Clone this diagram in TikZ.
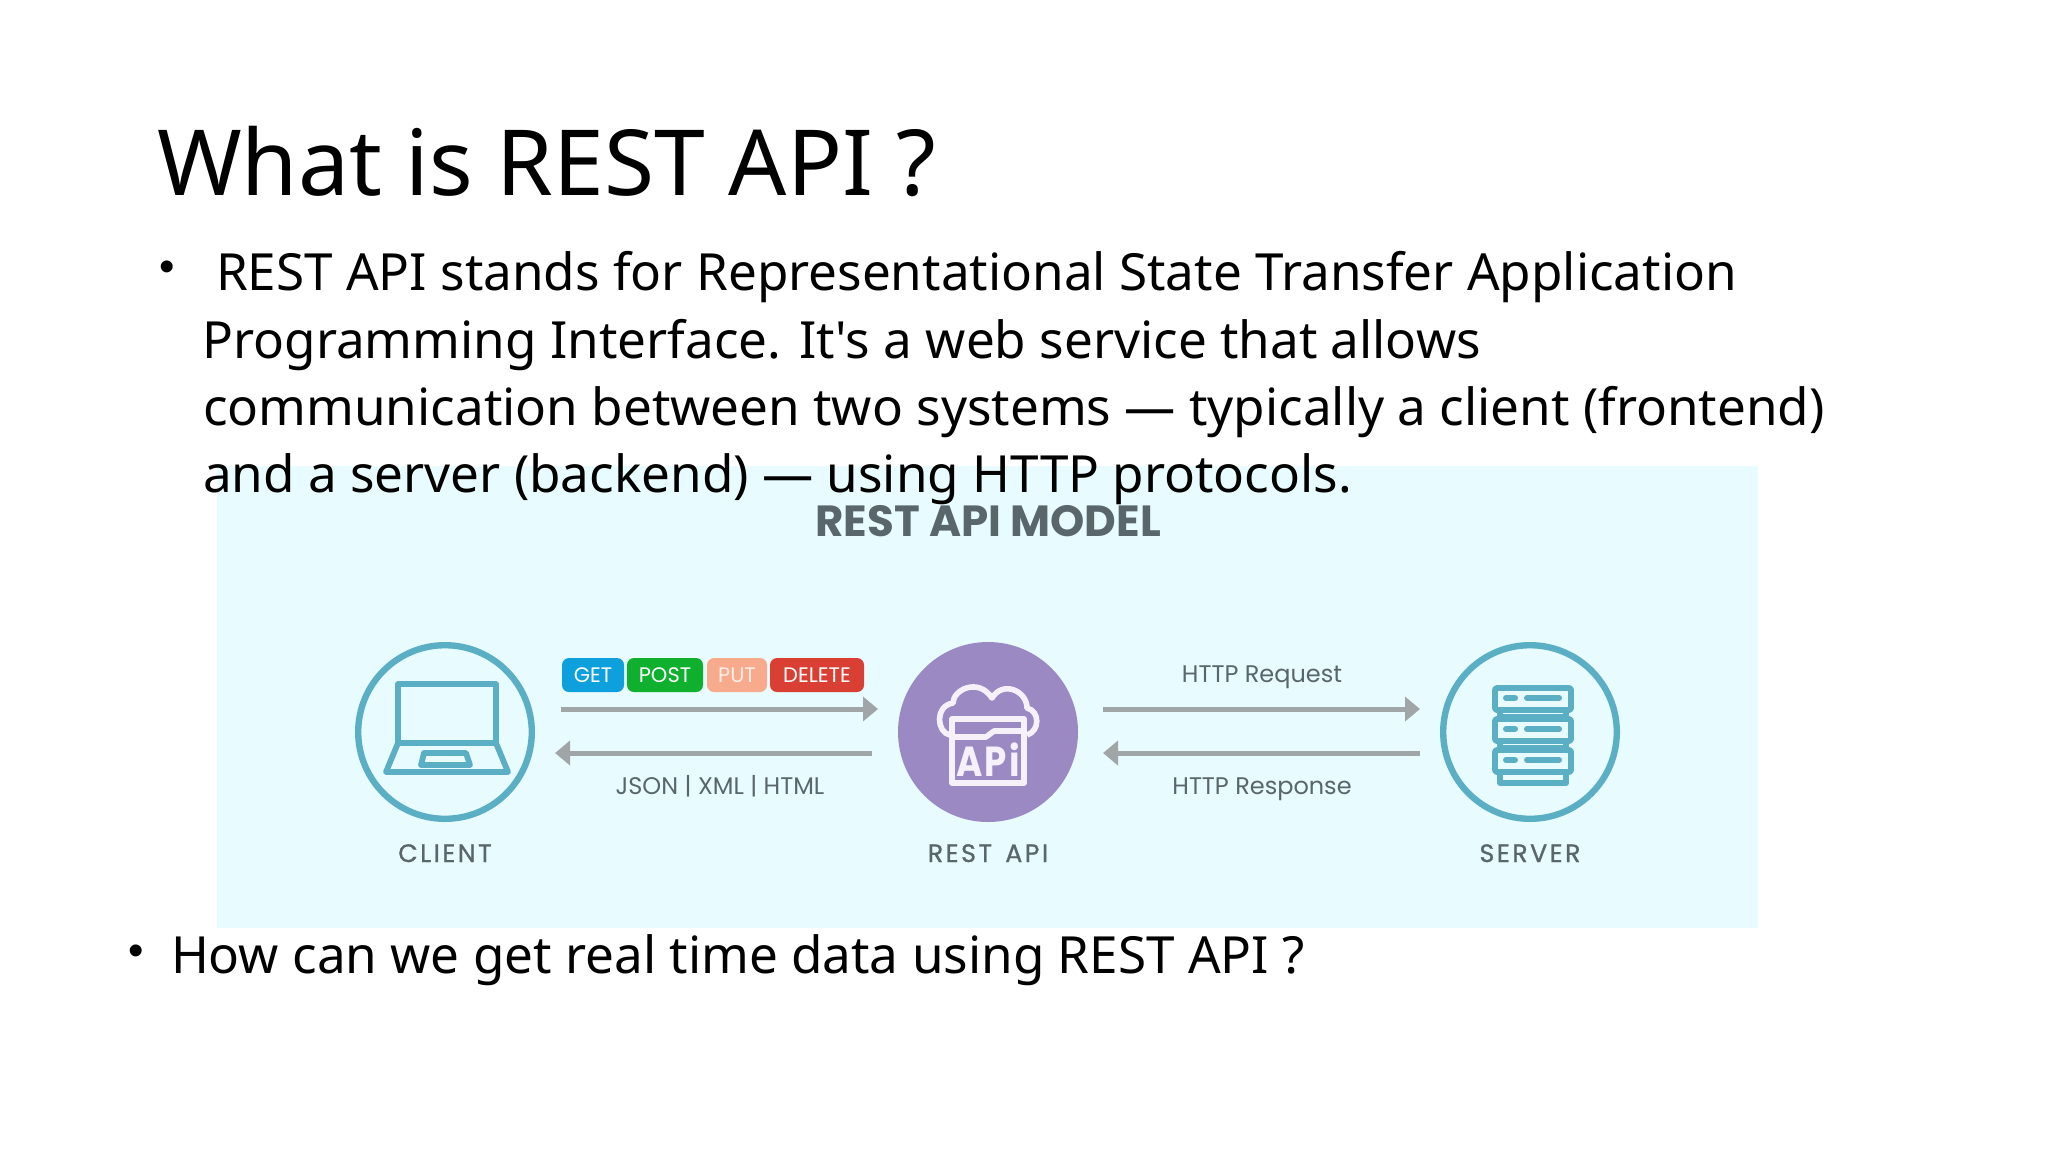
\documentclass[tikz,border=0pt]{standalone}
\usepackage{fontspec}
\newfontfamily\nsf{Noto Sans}
\newfontfamily\pop{Poppins}
\newfontfamily\popspaced[LetterSpace=10,FakeBold=1]{Poppins}
\newfontfamily\popfat[LetterSpace=6]{Poppins}
\newfontfamily\bulletf{Liberation Sans}
\usetikzlibrary{arrows.meta,calc}
\definecolor{panelc}{HTML}{E8FBFF}
\definecolor{tealc}{HTML}{5BAFC5}
\definecolor{purplec}{HTML}{9A89C3}
\definecolor{greyc}{HTML}{A0A6A8}
\definecolor{labelc}{HTML}{59666A}
\definecolor{iconw}{HTML}{F6F0FA}
\definecolor{getc}{HTML}{0E9FDD}
\definecolor{postc}{HTML}{10B02F}
\definecolor{putc}{HTML}{F8AA8C}
\definecolor{delc}{HTML}{DA3F33}
\tikzset{
 x=0.5pt,y=-0.5pt,
 txt/.style={anchor=base west,inner sep=0pt,outer sep=0pt,text=black},
 titlet/.style={txt,font=\nsf\fontsize{45.6}{45.6}\selectfont},
 bodyt/.style={txt,font=\nsf\fontsize{25.6}{25.6}\selectfont},
 bul/.style={anchor=center,inner sep=0pt,text=black,font=\bulletf\fontsize{22}{22}\selectfont},
 ring/.style={circle,draw=tealc,line width=3.2pt,fill=panelc,minimum size=86.8pt,inner sep=0pt,outer sep=0pt},
 disc/.style={circle,fill=purplec,minimum size=90pt,inner sep=0pt},
 captext/.style={anchor=base,inner sep=0pt,text=labelc,font=\popspaced\fontsize{12.6}{12.6}\selectfont},
 lab/.style={anchor=base,inner sep=0pt,text=labelc,font=\pop\fontsize{12}{12}\selectfont},
 badge/.style={rounded corners=3.5pt,minimum height=17pt,inner sep=0pt,anchor=center,text=white,font=\pop\fontsize{10.5}{10.5}\selectfont},
 conn/.style={draw=greyc,line width=2.5pt,-{Triangle[length=7.5pt,width=12pt]}},
 ic/.style={draw=tealc,line width=2.9pt,line join=round},
 iw/.style={draw=iconw,line width=2.8pt,line join=round},
 pill/.style={draw=tealc,line width=3pt,line cap=round},
}
\begin{document}
\begin{tikzpicture}
\useasboundingbox (0,0) rectangle (2048,1152);
\fill[white] (0,0) rectangle (2048,1152);
\fill[panelc] (217,466) rectangle (1758,928);
\node[anchor=base,inner sep=0pt,text=labelc,font=\pop\bfseries\fontsize{21.8}{21.8}\selectfont] (modeltitle) at (988,536) {REST API MODEL};

\node[ring] (client) at (445,732) {};
\node[disc] (api) at (988,732) {};
\node[ring] (server) at (1530,732) {};
\node[captext] (clientcap) at (445,862) {CLIENT};
\node[captext] (apicap) at (988,862) {REST\hspace{2pt} API};
\node[captext] (servercap) at (1530,862) {SERVER};

% laptop
\draw[ic] (398,684) rectangle (496,743);
\draw[ic] (398,743) -- (386,772) -- (508,772) -- (496,743);
\draw[ic] (424,753) -- (466,753) -- (470,765) -- (421,765) -- cycle;

% api icon
\draw[iw] (950,735) .. controls (937,733) and (934,706) .. (953,703)
  .. controls (953,690) and (978,677) .. (992,698)
  .. controls (1003,680) and (1027,691) .. (1027,708)
  .. controls (1040,711) and (1040,731) .. (1027,735);
\draw[iw,fill=purplec] (952,719) rectangle (1024,783);
\draw[iw] (952,737) -- (986,737) -- (994,731) -- (1024,731);
\node[inner sep=0pt,text=iconw,xscale=0.85,transform shape,font=\popfat\bfseries\fontsize{21}{21}\selectfont] (apitext) at (988,760) {APi};

% server icon
\draw[ic] (1500,710) rectangle (1566,717);
\draw[ic] (1500,741) rectangle (1566,748);
\draw[ic] (1500,772) rectangle (1566,783);
\draw[ic,rounded corners=1pt] (1495,688) rectangle (1571,710);
\draw[ic,rounded corners=1pt] (1495,719) rectangle (1571,741);
\draw[ic,rounded corners=1pt] (1495,750) rectangle (1571,772);
\foreach \yy in {698,729,760}{
 \draw[pill] (1506,\yy) -- (1515,\yy);
 \draw[pill] (1527,\yy) -- (1559,\yy);
}

% badges
\node[badge,fill=getc,minimum width=31pt] (get) at (593,675) {GET};
\node[badge,fill=postc,minimum width=38pt] (post) at (665,675) {POST};
\node[badge,fill=putc,minimum width=30pt,text=white!80!putc] (put) at (737,675) {PUT};
\node[badge,fill=delc,minimum width=47pt] (del) at (817,675) {DELETE};

% connector ends
\coordinate (ca) at (561,709); \coordinate (ab) at (878,709);
\coordinate (cc) at (872,753); \coordinate (cd) at (555,753);
\coordinate (ra) at (1103,709); \coordinate (rb) at (1420,709);
\coordinate (rc) at (1420,753); \coordinate (rd) at (1103,753);
\draw[conn] (ca) -- (ab);
\draw[conn] (cc) -- (cd);
\draw[conn] (ra) -- (rb);
\draw[conn] (rc) -- (rd);
\node[lab] (jsonl) at (720,794) {JSON | XML | HTML};
\node[lab] (reql) at (1262,682) {HTTP Request};
\node[lab] (resl) at (1262,794) {HTTP Response};

% slide text
\node[titlet] (title) at (157,195) {What is REST API ?};
\node[bul] (b1) at (167,271) {•};
\node[bodyt] (l1) at (216,290) {REST API stands for Representational State Transfer Application};
\node[bodyt] (l2) at (202.5,358) {Programming Interface. It's a web service that allows};
\node[bodyt] (l3) at (203,425.5) {communication between two systems — typically a client (frontend)};
\node[bodyt] (l4) at (203,492.5) {and a server (backend) — using HTTP protocols.};
\node[bul] (b2) at (136,955) {•};
\node[bodyt] (q) at (171,973) {How can we get real time data using REST API ?};
\end{tikzpicture}
\end{document}
